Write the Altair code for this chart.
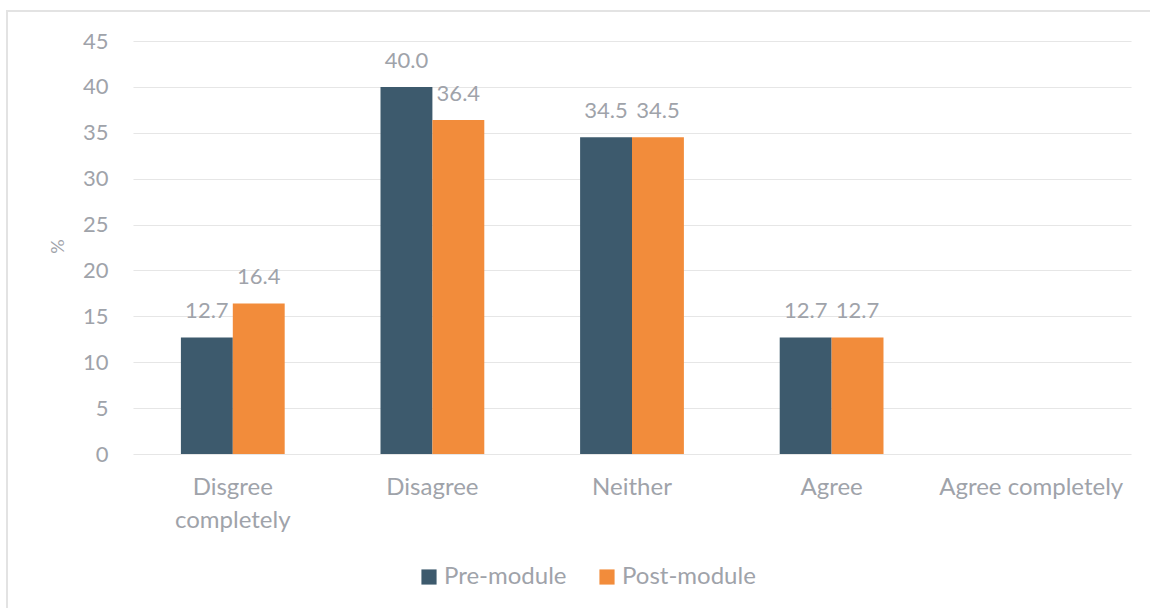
import altair as alt
import pandas as pd

# Survey responses, share of respondents (%)
categories = ["Disgree completely", "Disagree", "Neither", "Agree", "Agree completely"]
pre_module = [12.7, 40.0, 34.5, 12.7, None]
post_module = [16.4, 36.4, 34.5, 12.7, None]
series = ["Pre-module", "Post-module"]
colors = ["#3d5a6d", "#f28c3b"]
y_ticks = [0, 5, 10, 15, 20, 25, 30, 35, 40, 45]

rows = []
for cat, a, b in zip(categories, pre_module, post_module):
    rows.append({"category": cat, "series": series[0], "value": a})
    rows.append({"category": cat, "series": series[1], "value": b})
df = pd.DataFrame(rows)

FONT = "Lato"
TEXT = "#9fa3aa"

x_scale = alt.Scale(domain=categories, paddingInner=0.48, paddingOuter=0.24)
x_enc = alt.X(
    "category:N",
    sort=categories,
    scale=x_scale,
    axis=alt.Axis(
        title=None,
        labelAngle=0,
        domain=False,
        ticks=False,
        grid=False,
        labelPadding=21,
        labelLineHeight=33,
        labelLimit=400,
        labelFont=FONT,
        labelFontSize=24,
        labelColor=TEXT,
        labelExpr="datum.value == 'Disgree completely' ? ['Disgree', 'completely'] : datum.value",
    ),
)
xoff = alt.XOffset("series:N", sort=series)
y_enc = alt.Y(
    "value:Q",
    scale=alt.Scale(domain=[0, 45], nice=False),
    axis=alt.Axis(
        title="%",
        values=y_ticks,
        domain=False,
        ticks=False,
        labelPadding=25,
        labelFont=FONT,
        labelFontSize=22,
        labelColor=TEXT,
        gridColor="#e6e6e6",
        gridWidth=1.2,
        titleX=-75,
        titleY=205,
        titleAngle=270,
        titleAlign="center",
        titleBaseline="middle",
        titleFont=FONT,
        titleFontSize=18,
        titleFontWeight="normal",
        titleColor=TEXT,
    ),
)

base = alt.Chart(df).transform_filter("isValid(datum.value)")

bars = base.mark_bar().encode(
    x=x_enc,
    xOffset=xoff,
    y=y_enc,
    color=alt.Color(
        "series:N",
        sort=series,
        scale=alt.Scale(domain=series, range=colors),
        legend=alt.Legend(
            title=None,
            orient="none",
            legendX=284,
            legendY=524,
            direction="horizontal",
            symbolType="square",
            symbolSize=230,
            symbolStrokeWidth=0,
            labelFontSize=24,
            labelFont=FONT,
            labelColor=TEXT,
            labelOffset=3,
            columnPadding=28,
        ),
    ),
)

labels = base.mark_text(
    baseline="alphabetic", dy=-19, fontSize=22, font=FONT, color=TEXT
).encode(
    x=alt.X("category:N", sort=categories, scale=x_scale),
    xOffset=xoff,
    y=alt.Y("value:Q"),
    text=alt.Text("value:Q", format=".1f"),
)

frame = alt.Chart(alt.Data(values=[{"k": 0}])).mark_rect(
    filled=False, stroke="#e3e3e3", strokeWidth=2, clip=False
).encode(
    x=alt.value(-126), x2=alt.value(1200), y=alt.value(-30), y2=alt.value(700)
)

chart = alt.layer(frame, bars, labels).properties(
    width=998,
    height=413,
    autosize="none",
    background="white",
    padding={"left": 133, "top": 41, "right": 19, "bottom": 154},
).configure_view(stroke=None)

chart.save("out.html", embed_options={"renderer": "svg", "actions": False})
